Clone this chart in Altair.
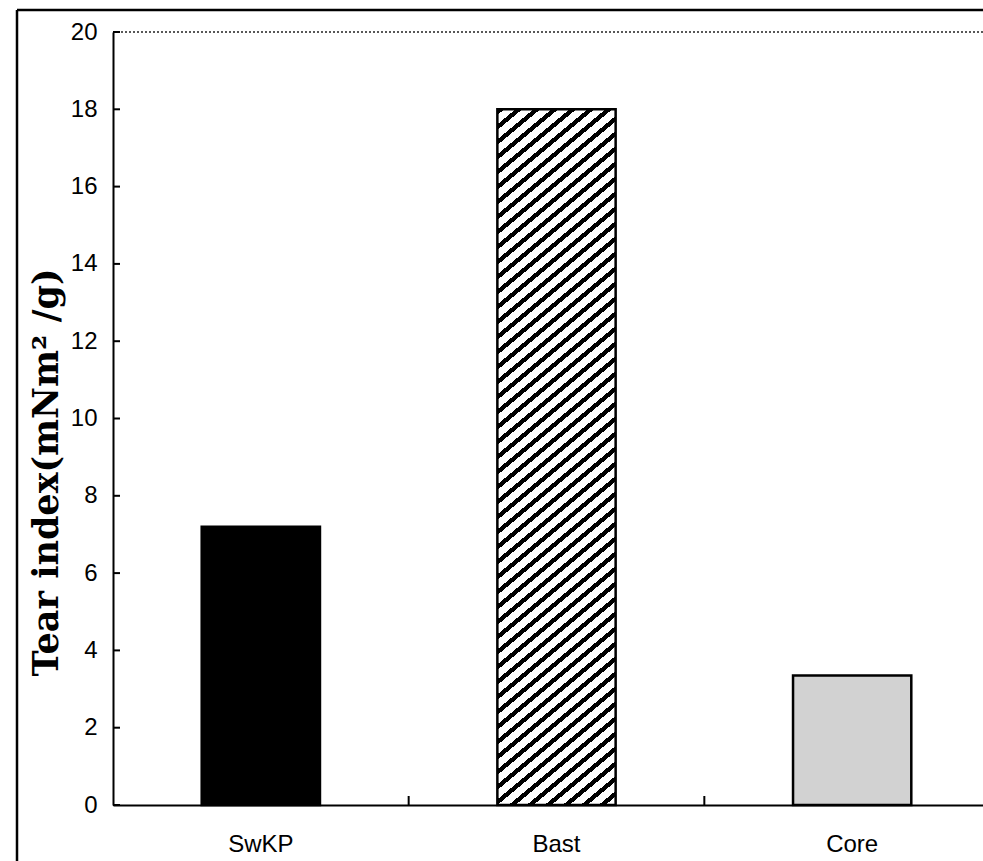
import math
import altair as alt
import pandas as pd

# Tear index of the three pulps
categories = ["SwKP", "Bast", "Core"]
tear_index = [7.2, 18.0, 3.35]
y_ticks = [0, 2, 4, 6, 8, 10, 12, 14, 16, 18, 20]

# Layout (pixels)
PLOT_W = 870          # visible plot width
X_RANGE = 887         # band range (third band runs past the right edge)
PLOT_H = 773
PAD_INNER = 0.6
PAD_OUTER = 0.3
STEP = X_RANGE / (len(categories) - PAD_INNER + 2 * PAD_OUTER)
BAR_W = STEP * (1 - PAD_INNER)

df = pd.DataFrame({"pulp": categories, "tear": tear_index})

x_enc = alt.X("pulp:N", sort=categories,
              scale=alt.Scale(range=[0, X_RANGE], paddingInner=PAD_INNER,
                              paddingOuter=PAD_OUTER),
              axis=alt.Axis(title=None, labelAngle=0, ticks=False,
                            labelFont="Liberation Sans", labelFontSize=24,
                            labelColor="black", labelPadding=27,
                            domainColor="black", domainWidth=2))
y_scale = alt.Scale(domain=[0, 20], nice=False, zero=True)
y_enc = alt.Y("tear:Q", scale=y_scale,
              axis=alt.Axis(title="Tear index(mNm² /g)", values=y_ticks,
                            ticks=False, grid=False, labelFont="Liberation Sans",
                            labelFontSize=24, labelColor="black", labelPadding=16,
                            domainColor="black", domainWidth=2,
                            titleFont="DejaVu Serif", titleFontWeight="bold",
                            titleFontSize=35, titleColor="black", titleAngle=270,
                            titleAlign="center", titleBaseline="middle",
                            titleX=-67, titleY=440))

# Diagonal "/" hatching for the Bast bar, built as a striped linear gradient
bast_h = tear_index[1] / 20 * PLOT_H
per_x, per_y = 18.0, 15.0          # stripe period along x and along y
n_per = BAR_W / per_x + bast_h / per_y
ga = BAR_W / (per_x * n_per)
gb = bast_h / (per_y * n_per)
gx2 = ga / (ga * ga + gb * gb)
gy2 = gb / (ga * ga + gb * gb)
dark = 0.38
stops = []
for k in range(int(math.ceil(n_per)) + 1):
    o0 = k / n_per
    o1 = (k + dark) / n_per
    if o0 > 1:
        break
    stops.append(alt.GradientStop(offset=o0, color="white"))
    stops.append(alt.GradientStop(offset=o0, color="black"))
    stops.append(alt.GradientStop(offset=min(o1, 1), color="black"))
    stops.append(alt.GradientStop(offset=min(o1, 1), color="white"))
hatch = alt.LinearGradient(gradient="linear", stops=stops,
                           x1=0, y1=0, x2=gx2, y2=gy2)

fills = {"SwKP": "black", "Bast": hatch, "Core": "#d2d2d2"}
bar_layers = []
for name in categories:
    bar_layers.append(
        alt.Chart(df).transform_filter(alt.datum.pulp == name)
        .mark_bar(fill=fills[name], stroke="black", strokeWidth=2.5)
        .encode(x=x_enc, y=y_enc)
    )

# dotted line closing the top of the plot at y = 20
top_line = alt.Chart(pd.DataFrame({"top": [20]})).mark_rule(
    color="#222222", strokeDash=[2, 2], strokeWidth=1.5
).encode(y=alt.Y("top:Q", scale=y_scale))

# inward ticks on the value axis
tick_df = pd.DataFrame({"tick": y_ticks})
y_tick_marks = alt.Chart(tick_df).mark_rule(color="black", strokeWidth=2).encode(
    y=alt.Y("tick:Q", scale=y_scale), x=alt.value(0), x2=alt.value(7)
)

# upward ticks between the categories
sep_df = pd.DataFrame({"pulp": categories[:-1]})
x_tick_marks = alt.Chart(sep_df).mark_rule(
    color="black", strokeWidth=2, xOffset=STEP / 2
).encode(x=alt.X("pulp:N", sort=categories), y=alt.value(PLOT_H - 9),
         y2=alt.value(PLOT_H))

# outer frame around the figure
frame_df = pd.DataFrame({"f": [0]})
frame_left = alt.Chart(frame_df).mark_rule(color="black", strokeWidth=2.5).encode(
    x=alt.value(-96), y=alt.value(-22), y2=alt.value(PLOT_H + 60)
)
frame_top = alt.Chart(frame_df).mark_rule(color="black", strokeWidth=2.5).encode(
    x=alt.value(-96), x2=alt.value(PLOT_W + 10), y=alt.value(-22)
)

chart = alt.layer(
    *bar_layers, top_line, y_tick_marks, x_tick_marks, frame_left, frame_top
).properties(
    width=PLOT_W, height=PLOT_H,
    autosize=alt.AutoSizeParams(type="none"),
    padding={"left": 113, "top": 32, "right": 0, "bottom": 56},
    background="white",
).configure_view(stroke=None)

chart.save("out.html", embed_options={"renderer": "svg", "actions": False})
